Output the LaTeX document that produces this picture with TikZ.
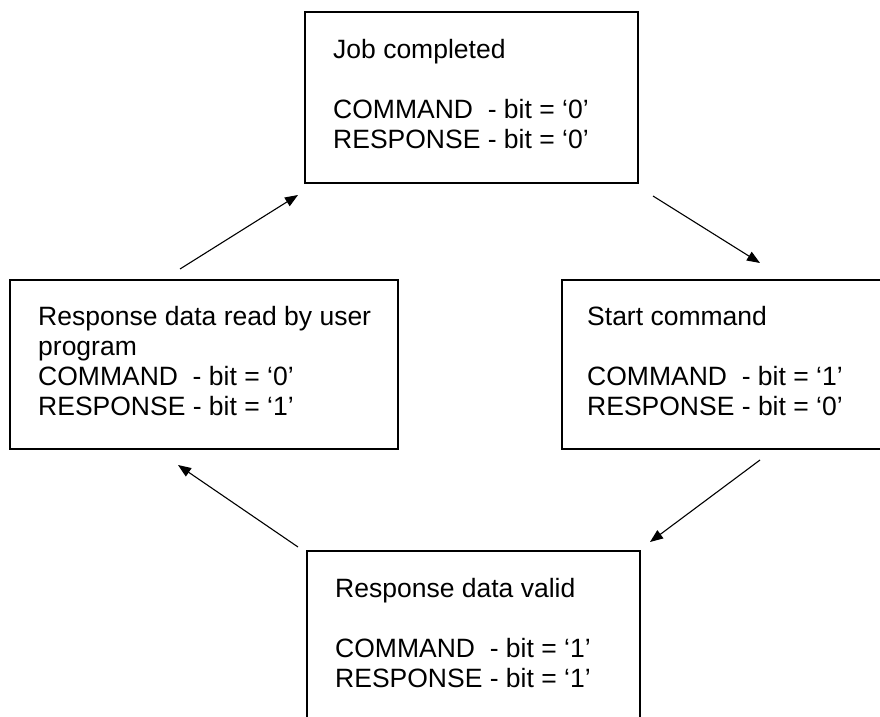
\documentclass[tikz,border=0pt]{standalone}
\usepackage{fontspec}
\setmainfont{Liberation Sans}
\usetikzlibrary{arrows.meta}
\newcommand\firstlinestrut{\rule{0pt}{22pt}}
\tikzset{
  statebox/.style={draw, line width=1.7pt, inner sep=0pt},
  statetext/.style={anchor=north west, inner sep=0pt, align=left,
    font=\fontsize{26.5}{30}\selectfont},
  flow/.style={line width=1.1pt, -{Triangle[length=13pt,width=10pt]}}
}
\begin{document}
\begin{tikzpicture}[x=1pt,y=1pt]
\useasboundingbox (0,0) rectangle (880,716);
% state boxes
\draw[statebox] (305,704) rectangle (638,533);
\draw[statebox] (10,436) rectangle (398,267);
\draw[statebox] (562,436) rectangle (884,267);
\draw[statebox] (307,165) rectangle (640,-8);
\node[statetext] (done) at (333,680) {\firstlinestrut Job completed\\[30pt]COMMAND\ \ - bit = ‘0’\\RESPONSE - bit = ‘0’};
\node[statetext] (readback) at (38,413) {\firstlinestrut Response data read by user\\program\\COMMAND\ \ - bit = ‘0’\\RESPONSE - bit = ‘1’};
\node[statetext] (start) at (587,413) {\firstlinestrut Start command\\[30pt]COMMAND\ \ - bit = ‘1’\\RESPONSE - bit = ‘0’};
\node[statetext] (valid) at (335,141) {\firstlinestrut Response data valid\\[30pt]COMMAND\ \ - bit = ‘1’\\RESPONSE - bit = ‘1’};
% arrow end points
\coordinate (a1) at (180,447);
\coordinate (a2) at (298,521);
\coordinate (b1) at (653,520);
\coordinate (b2) at (760,453);
\coordinate (c1) at (760,256);
\coordinate (c2) at (650,174);
\coordinate (d1) at (298,169);
\coordinate (d2) at (178,251);
\draw[flow] (a1) -- (a2);
\draw[flow] (b1) -- (b2);
\draw[flow] (c1) -- (c2);
\draw[flow] (d1) -- (d2);
\end{tikzpicture}
\end{document}
